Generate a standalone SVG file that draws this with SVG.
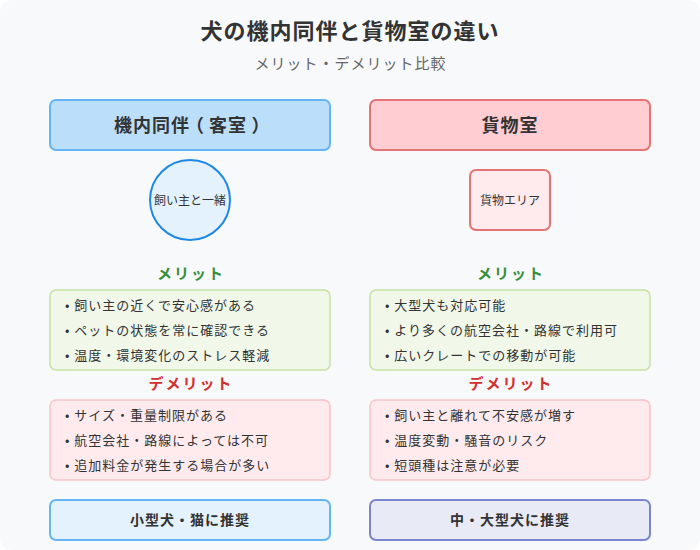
<svg xmlns="http://www.w3.org/2000/svg" width="700" height="550" viewBox="0 0 700 550">
<style>
text{font-family:"Noto Sans CJK JP",sans-serif;fill:#333}
.m{text-anchor:middle}
.title{font-size:22px;font-weight:700;letter-spacing:1px}
.sub{font-size:15px;fill:#666;letter-spacing:1px}
.hd{font-size:18px;font-weight:700;letter-spacing:1px}
.sec{font-size:15px;font-weight:700;letter-spacing:2px}
.good{fill:#388e3c}.bad{fill:#d32f2f}
.li{font-size:13px;letter-spacing:1px}
.small{font-size:12px}
.rec{font-size:14px;font-weight:700;letter-spacing:1px}
.gbox{fill:#f1f8e9;stroke:#c5e1a5;stroke-width:1.5}
.rbox{fill:#ffebee;stroke:#f8c4c9;stroke-width:1.5}
</style>
<rect width="700" height="550" rx="12" fill="#f8f9fa"/>
<text class="m title" x="350" y="39">犬の機内同伴と貨物室の違い</text>
<text class="m sub" x="350.5" y="69">メリット・デメリット比較</text>
<g id="cabin-header"><rect x="50" y="100" width="280" height="50" rx="6" fill="#bbdefb" stroke="#64b5f6" stroke-width="2"/><text class="hd" x="114" y="132" dx="0 0 0 0 -4 4 0 4.5">機内同伴（客室）</text></g>
<g id="cargo-header"><rect x="370" y="100" width="280" height="50" rx="6" fill="#ffcdd2" stroke="#e57373" stroke-width="2"/><text class="m hd" x="510" y="132">貨物室</text></g>
<g id="cabin-icon"><circle cx="190" cy="200" r="40" fill="#e3f2fd" stroke="#1e88e5" stroke-width="2"/><text class="m small" x="190" y="205">飼い主と一緒</text></g>
<g id="cargo-icon"><rect x="470" y="170" width="80" height="60" rx="6" fill="#ffebee" stroke="#e57373" stroke-width="2"/><text class="m small" x="510" y="205">貨物エリア</text></g>
<g id="cabin-merit"><text class="m sec good" x="191" y="279">メリット</text><rect class="gbox" x="50" y="290" width="280" height="80" rx="6"/>
<text class="li" x="65" y="310">• 飼い主の近くで安心感がある</text><text class="li" x="65" y="335">• ペットの状態を常に確認できる</text><text class="li" x="65" y="360">• 温度・環境変化のストレス軽減</text></g>
<g id="cargo-merit"><text class="m sec good" x="511" y="279">メリット</text><rect class="gbox" x="370" y="290" width="280" height="80" rx="6"/>
<text class="li" x="385" y="310">• 大型犬も対応可能</text><text class="li" x="385" y="335">• より多くの航空会社・路線で利用可</text><text class="li" x="385" y="360">• 広いクレートでの移動が可能</text></g>
<g id="cabin-demerit"><text class="m sec bad" x="191" y="389">デメリット</text><rect class="rbox" x="50" y="400" width="280" height="80" rx="6"/>
<text class="li" x="65" y="420">• サイズ・重量制限がある</text><text class="li" x="65" y="445">• 航空会社・路線によっては不可</text><text class="li" x="65" y="470">• 追加料金が発生する場合が多い</text></g>
<g id="cargo-demerit"><text class="m sec bad" x="511" y="389">デメリット</text><rect class="rbox" x="370" y="400" width="280" height="80" rx="6"/>
<text class="li" x="385" y="420">• 飼い主と離れて不安感が増す</text><text class="li" x="385" y="445">• 温度変動・騒音のリスク</text><text class="li" x="385" y="470">• 短頭種は注意が必要</text></g>
<g id="cabin-rec"><rect x="50" y="500" width="280" height="40" rx="6" fill="#e3f2fd" stroke="#64b5f6" stroke-width="2"/><text class="m rec" x="190" y="525">小型犬・猫に推奨</text></g>
<g id="cargo-rec"><rect x="370" y="500" width="280" height="40" rx="6" fill="#e8eaf6" stroke="#7986cb" stroke-width="2"/><text class="m rec" x="510" y="525">中・大型犬に推奨</text></g>
</svg>
